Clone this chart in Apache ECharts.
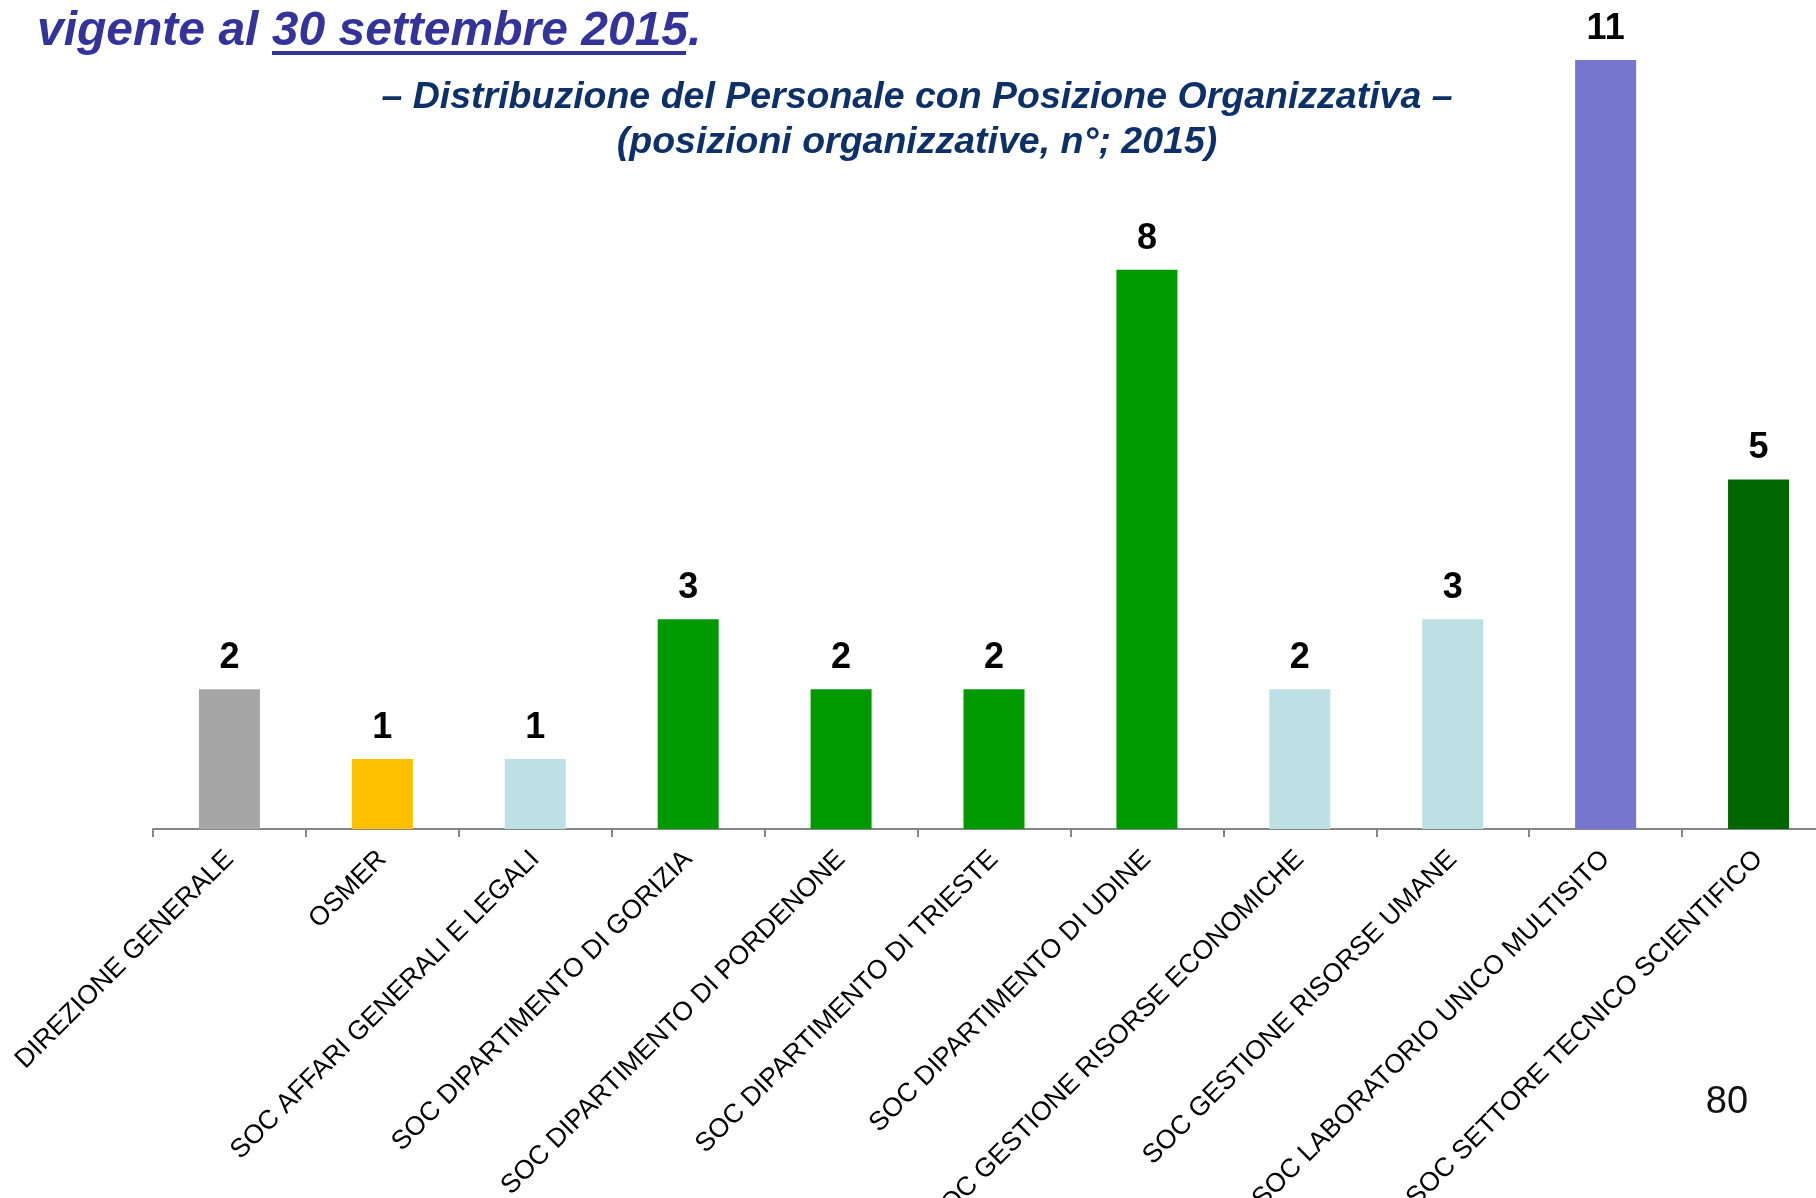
<!DOCTYPE html>
<html>
<head>
<meta charset="utf-8">
<script src="https://cdn.jsdelivr.net/npm/echarts@6/dist/echarts.min.js"></script>
<style>
  html, body { margin: 0; padding: 0; background: #ffffff; overflow: hidden; }
  #chart { width: 1816px; height: 1198px; }
</style>
</head>
<body>
<div id="chart"></div>
<script>
// Strutture organizzative
const categories = [
  'DIREZIONE GENERALE',
  'OSMER',
  'SOC AFFARI GENERALI E LEGALI',
  'SOC DIPARTIMENTO DI GORIZIA',
  'SOC DIPARTIMENTO DI PORDENONE',
  'SOC DIPARTIMENTO DI TRIESTE',
  'SOC DIPARTIMENTO DI UDINE',
  'SOC GESTIONE RISORSE ECONOMICHE',
  'SOC GESTIONE RISORSE UMANE',
  'SOC LABORATORIO UNICO MULTISITO',
  'SOC SETTORE TECNICO SCIENTIFICO'
];

// Posizioni organizzative (n°)
const values = [2, 1, 1, 3, 2, 2, 8, 2, 3, 11, 5];

// Colore di ciascuna barra
const barColors = [
  '#a6a6a6', '#ffc000', '#bce0e3', '#009900', '#009900', '#009900',
  '#009900', '#bce0e3', '#bce0e3', '#7676cf', '#006600'
];

const FONT = '"Liberation Sans", Arial, sans-serif';

const chart = echarts.init(document.getElementById('chart'), null, { renderer: 'canvas' });

chart.setOption({
  backgroundColor: '#ffffff',
  animation: false,
  grid: {
    left: 153, top: 60, width: 1682, height: 769,
    containLabel: false,
    outerBoundsMode: 'none'
  },
  xAxis: {
    type: 'category',
    data: categories,
    boundaryGap: true,
    axisLine: { show: true, lineStyle: { color: '#868686', width: 2 } },
    axisTick: { show: true, length: 8, lineStyle: { color: '#868686', width: 2 } },
    axisLabel: {
      interval: 0,
      rotate: 45,
      margin: 26,
      padding: [14, 0, 0, 0],
      color: '#000000',
      fontFamily: FONT,
      fontSize: 26.5
    },
    splitLine: { show: false }
  },
  yAxis: {
    type: 'value',
    min: 0,
    max: 11,
    show: false,
    splitLine: { show: false }
  },
  series: [{
    type: 'bar',
    barWidth: 61,
    data: values.map((v, i) => ({ value: v, itemStyle: { color: barColors[i] } })),
    label: {
      show: true,
      position: 'top',
      distance: 13,
      color: '#000000',
      fontFamily: FONT,
      fontWeight: 'bold',
      fontSize: 36
    }
  }],
  graphic: [
    {
      type: 'text',
      left: 37,
      top: 8,
      style: {
        text: 'vigente al 30 settembre 2015.',
        fill: '#333399',
        font: 'italic bold 48px ' + FONT
      }
    },
    {
      // sottolineatura della data
      type: 'rect',
      shape: { x: 272, y: 51, width: 414, height: 4 },
      style: { fill: '#333399' }
    },
    {
      type: 'text',
      x: 917,
      y: 98,
      style: {
        text: '– Distribuzione del Personale con Posizione Organizzativa –',
        fill: '#0d3069',
        font: 'italic bold 37.5px ' + FONT,
        align: 'center',
        verticalAlign: 'middle'
      }
    },
    {
      type: 'text',
      x: 917,
      y: 143,
      style: {
        text: '(posizioni organizzative, n°; 2015)',
        fill: '#0d3069',
        font: 'italic bold 37.5px ' + FONT,
        align: 'center',
        verticalAlign: 'middle'
      }
    },
    {
      type: 'text',
      x: 1727,
      y: 1103,
      style: {
        text: '80',
        fill: '#111111',
        font: '38px ' + FONT,
        align: 'center',
        verticalAlign: 'middle'
      }
    }
  ]
});
</script>
</body>
</html>
